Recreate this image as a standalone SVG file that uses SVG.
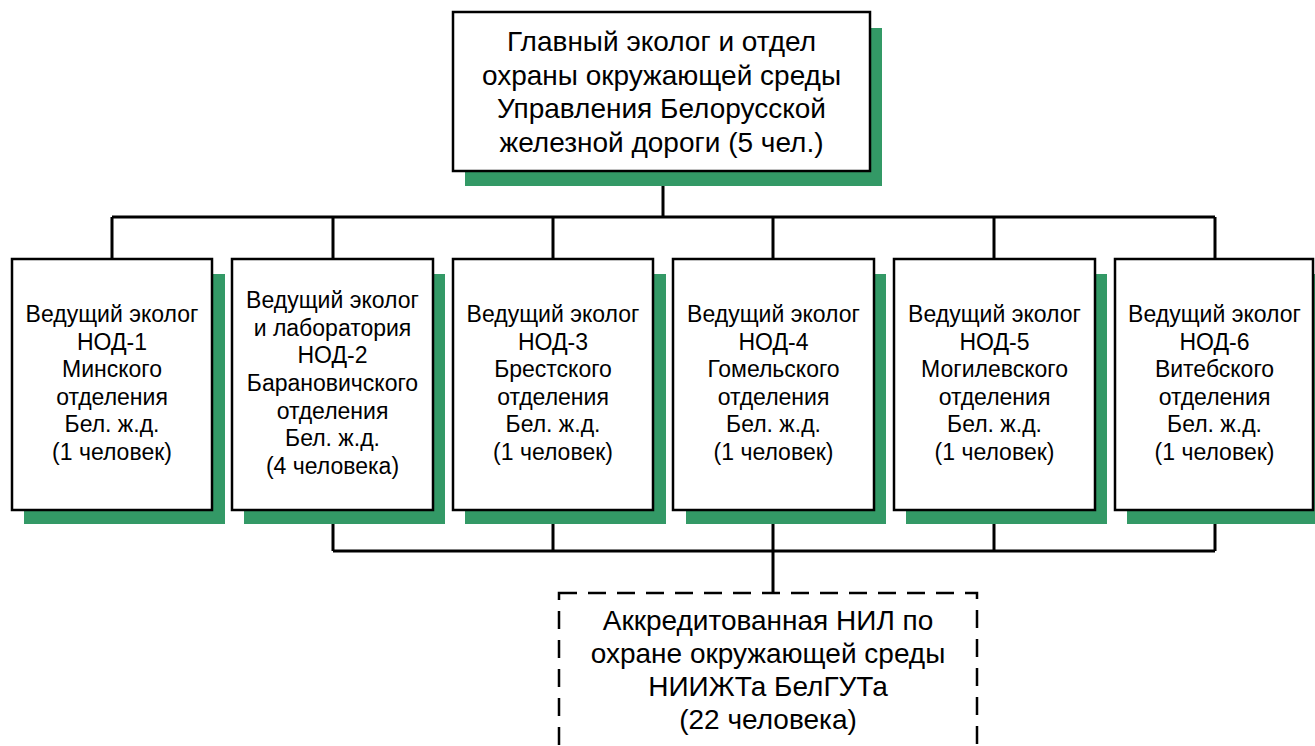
<svg xmlns="http://www.w3.org/2000/svg" width="1315" height="746" viewBox="0 0 1315 746">
<style>
.shadow{fill:#339966;}
.box{fill:#ffffff;stroke:#000000;stroke-width:2.5;}
.dash{fill:#ffffff;stroke:#000000;stroke-width:2.5;stroke-dasharray:18 11;}
.conn{fill:none;stroke:#000000;stroke-width:3;}
text{font-family:"Liberation Sans",Arial,sans-serif;fill:#000000;text-anchor:middle;}
.big{font-size:28px;}
.sm{font-size:23px;}
</style>
<rect width="1315" height="746" fill="#ffffff"/>
<g id="connectors">
<path class="conn" d="M663 171 V217 M112 217 H1215 M112 217 V259 M333 217 V259 M553 217 V259 M773 217 V259 M994 217 V259 M1215 217 V259"/>
<path class="conn" d="M333 510 V551 M553 510 V551 M773 510 V551 M994 510 V551 M1215 510 V551 M333 551 H1215 M773 551 V593"/>
</g>
<g id="main">
<rect class="shadow" x="465" y="28" width="417" height="158"/>
<rect class="box" x="453" y="12" width="417" height="159"/>
<text class="big" x="661.5"><tspan x="661.5" y="51">Главный эколог и отдел</tspan><tspan x="661.5" y="84.6">охраны окружающей среды</tspan><tspan x="661.5" y="118.2">Управления Белорусской</tspan><tspan x="661.5" y="151.8">железной дороги (5 чел.)</tspan></text>
</g>
<g id="nod1">
<rect class="shadow" x="24" y="274" width="201" height="250"/>
<rect class="box" x="12" y="259" width="200" height="251"/>
<text class="sm"><tspan x="112" y="322">Ведущий эколог</tspan><tspan x="112" y="349.6">НОД-1</tspan><tspan x="112" y="377.2">Минского</tspan><tspan x="112" y="404.8">отделения</tspan><tspan x="112" y="432.4">Бел. ж.д.</tspan><tspan x="112" y="460">(1 человек)</tspan></text>
</g>
<g id="nod2">
<rect class="shadow" x="244" y="274" width="201" height="250"/>
<rect class="box" x="232" y="259" width="201" height="251"/>
<text class="sm"><tspan x="332.5" y="308.2">Ведущий эколог</tspan><tspan x="332.5" y="335.8">и лаборатория</tspan><tspan x="332.5" y="363.4">НОД-2</tspan><tspan x="332.5" y="391">Барановичского</tspan><tspan x="332.5" y="418.6">отделения</tspan><tspan x="332.5" y="446.2">Бел. ж.д.</tspan><tspan x="332.5" y="473.8">(4 человека)</tspan></text>
</g>
<g id="nod3">
<rect class="shadow" x="465" y="274" width="201" height="250"/>
<rect class="box" x="453" y="259" width="200" height="251"/>
<text class="sm"><tspan x="553" y="322">Ведущий эколог</tspan><tspan x="553" y="349.6">НОД-3</tspan><tspan x="553" y="377.2">Брестского</tspan><tspan x="553" y="404.8">отделения</tspan><tspan x="553" y="432.4">Бел. ж.д.</tspan><tspan x="553" y="460">(1 человек)</tspan></text>
</g>
<g id="nod4">
<rect class="shadow" x="686" y="274" width="200" height="250"/>
<rect class="box" x="673" y="259" width="201" height="251"/>
<text class="sm"><tspan x="773.5" y="322">Ведущий эколог</tspan><tspan x="773.5" y="349.6">НОД-4</tspan><tspan x="773.5" y="377.2">Гомельского</tspan><tspan x="773.5" y="404.8">отделения</tspan><tspan x="773.5" y="432.4">Бел. ж.д.</tspan><tspan x="773.5" y="460">(1 человек)</tspan></text>
</g>
<g id="nod5">
<rect class="shadow" x="906" y="274" width="201" height="250"/>
<rect class="box" x="894" y="259" width="201" height="251"/>
<text class="sm"><tspan x="994.5" y="322">Ведущий эколог</tspan><tspan x="994.5" y="349.6">НОД-5</tspan><tspan x="994.5" y="377.2">Могилевского</tspan><tspan x="994.5" y="404.8">отделения</tspan><tspan x="994.5" y="432.4">Бел. ж.д.</tspan><tspan x="994.5" y="460">(1 человек)</tspan></text>
</g>
<g id="nod6">
<rect class="shadow" x="1127" y="274" width="201" height="250"/>
<rect class="box" x="1115" y="259" width="198" height="251"/>
<text class="sm"><tspan x="1214.5" y="322">Ведущий эколог</tspan><tspan x="1214.5" y="349.6">НОД-6</tspan><tspan x="1214.5" y="377.2">Витебского</tspan><tspan x="1214.5" y="404.8">отделения</tspan><tspan x="1214.5" y="432.4">Бел. ж.д.</tspan><tspan x="1214.5" y="460">(1 человек)</tspan></text>
</g>
<g id="nil">
<rect class="dash" x="559" y="593" width="418" height="180"/>
<text class="big"><tspan x="768" y="630">Аккредитованная НИЛ по</tspan><tspan x="768" y="663">охране окружающей среды</tspan><tspan x="768" y="696">НИИЖТа БелГУТа</tspan><tspan x="768" y="729">(22 человека)</tspan></text>
</g>
</svg>
